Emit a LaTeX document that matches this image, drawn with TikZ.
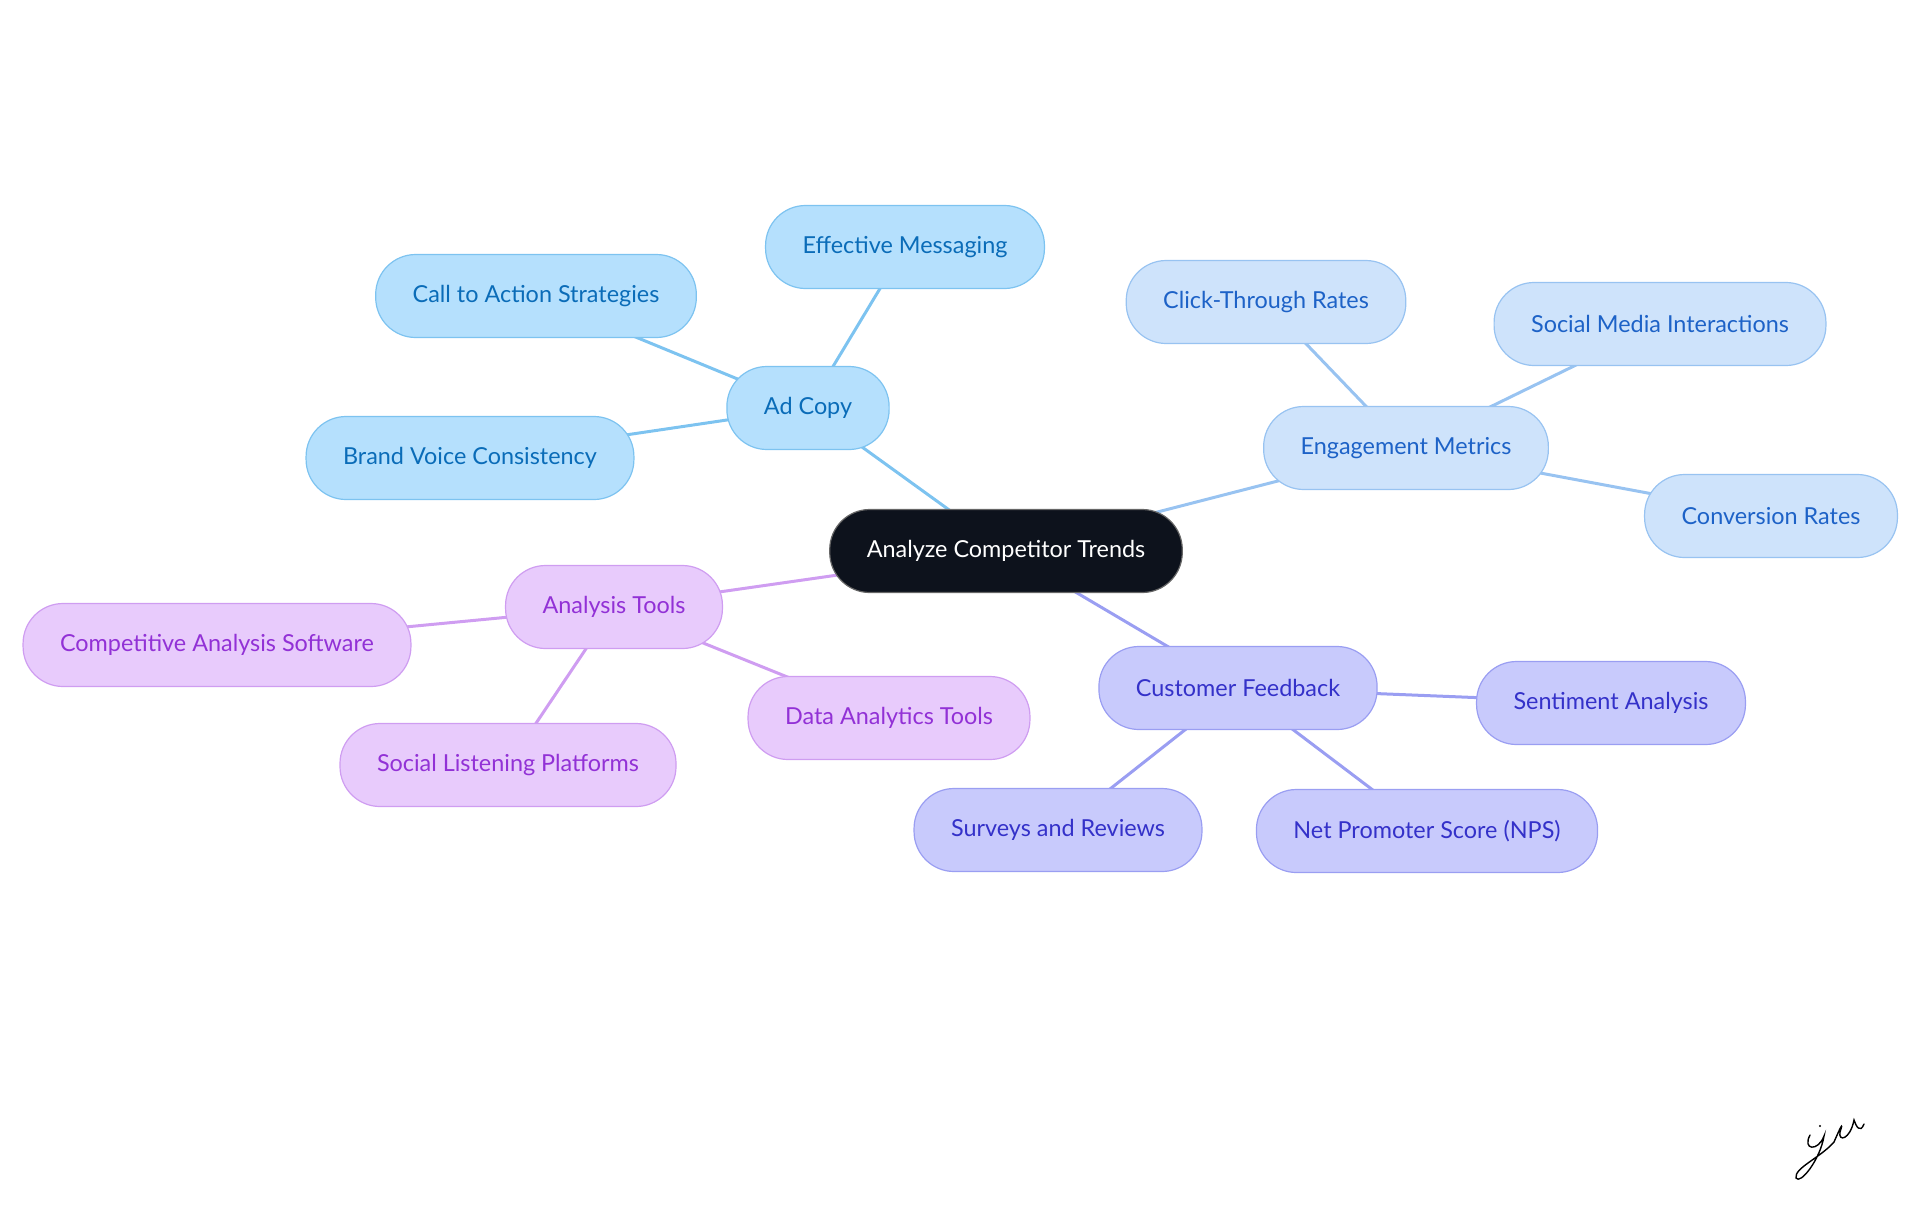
\documentclass[tikz,border=0pt]{standalone}
\usepackage{fontspec}
\setmainfont{Lato}
\usetikzlibrary{positioning, calc, backgrounds}

\definecolor{rootfill}{HTML}{0D121C}
\definecolor{adfill}{HTML}{B5E0FD}
\definecolor{addraw}{HTML}{7DC3F0}
\definecolor{adtext}{HTML}{0A6CB8}
\definecolor{engfill}{HTML}{CEE3FB}
\definecolor{engdraw}{HTML}{98C3F1}
\definecolor{engtext}{HTML}{1D62C7}
\definecolor{cusfill}{HTML}{C8CAFC}
\definecolor{cusdraw}{HTML}{9A9EF2}
\definecolor{custext}{HTML}{3431C9}
\definecolor{anafill}{HTML}{E8CBFC}
\definecolor{anadraw}{HTML}{CF9DF1}
\definecolor{anatext}{HTML}{9231D6}

\begin{document}
\begin{tikzpicture}[
  x=0.5pt, y=-0.5pt,
  pill/.style={draw, rounded corners=20pt, minimum height=41.5pt,
               inner xsep=18.5pt, line width=0.6pt, font=\fontsize{11.7}{13}\selectfont},
  root/.style={pill, fill=rootfill, draw=black!60, text=white},
  adnode/.style={pill, fill=adfill, draw=addraw, text=adtext},
  engnode/.style={pill, fill=engfill, draw=engdraw, text=engtext},
  cusnode/.style={pill, fill=cusfill, draw=cusdraw, text=custext},
  ananode/.style={pill, fill=anafill, draw=anadraw, text=anatext},
  adlink/.style={line width=1.5pt, color=addraw},
  englink/.style={line width=1.5pt, color=engdraw},
  cuslink/.style={line width=1.5pt, color=cusdraw},
  analink/.style={line width=1.5pt, color=anadraw},
]
\useasboundingbox (0,0) rectangle (1920,1215);

% === Root ===
\node[root] (trends) at (1006,551) {Analyze Competitor Trends};

% === Ad Copy branch ===
\node[adnode] (adcopy) at (808,408) {Ad Copy};
\node[adnode] (messaging) at (905,247) {Effective Messaging};
\node[adnode] (cta) at (536,296) {Call to Action Strategies};
\node[adnode] (brandvoice) at (470,458) {Brand Voice Consistency};

% === Engagement Metrics branch ===
\node[engnode] (engagement) at (1406,448) {Engagement Metrics};
\node[engnode] (ctr) at (1266,302) {Click-Through Rates};
\node[engnode] (social) at (1660,324) {Social Media Interactions};
\node[engnode] (conversion) at (1771,516) {Conversion Rates};

% === Customer Feedback branch ===
\node[cusnode] (feedback) at (1238,688) {Customer Feedback};
\node[cusnode] (sentiment) at (1611,703) {Sentiment Analysis};
\node[cusnode] (surveys) at (1058,830) {Surveys and Reviews};
\node[cusnode] (nps) at (1427,831) {Net Promoter Score (NPS)};

% === Analysis Tools branch ===
\node[ananode] (tools) at (614,607) {Analysis Tools};
\node[ananode] (software) at (217,645) {Competitive Analysis Software};
\node[ananode] (listening) at (508,765) {Social Listening Platforms};
\node[ananode] (analytics) at (889,718) {Data Analytics Tools};

% === Links (centre to centre, behind the pills) ===
\begin{scope}[on background layer]
  \draw[adlink] (trends.center) -- (adcopy.center);
  \draw[adlink] (adcopy.center) -- (messaging.center);
  \draw[adlink] (adcopy.center) -- (cta.center);
  \draw[adlink] (adcopy.center) -- (brandvoice.center);
  \draw[englink] (trends.center) -- (engagement.center);
  \draw[englink] (engagement.center) -- (ctr.center);
  \draw[englink] (engagement.center) -- (social.center);
  \draw[englink] (engagement.center) -- (conversion.center);
  \draw[cuslink] (trends.center) -- (feedback.center);
  \draw[cuslink] (feedback.center) -- (sentiment.center);
  \draw[cuslink] (feedback.center) -- (surveys.center);
  \draw[cuslink] (feedback.center) -- (nps.center);
  \draw[analink] (trends.center) -- (tools.center);
  \draw[analink] (tools.center) -- (software.center);
  \draw[analink] (tools.center) -- (listening.center);
  \draw[analink] (tools.center) -- (analytics.center);
\end{scope}

% === Signature mark ===
\coordinate (sig) at (1830,1150);
\draw[line width=0.7pt, line cap=round]
  ([shift={(-20,-15)}]sig) .. controls ([shift={(-28,0)}]sig) and ([shift={(-12,2)}]sig) .. ([shift={(-6,-14)}]sig)
  .. controls ([shift={(-10,10)}]sig) and ([shift={(-30,35)}]sig) .. ([shift={(-34,28)}]sig)
  .. controls ([shift={(-36,18)}]sig) and ([shift={(-10,8)}]sig) .. ([shift={(4,-8)}]sig)
  .. controls ([shift={(10,-22)}]sig) and ([shift={(14,-30)}]sig) .. ([shift={(10,-18)}]sig)
  .. controls ([shift={(8,-8)}]sig) and ([shift={(20,-10)}]sig) .. ([shift={(24,-30)}]sig)
  .. controls ([shift={(26,-24)}]sig) and ([shift={(30,-16)}]sig) .. ([shift={(34,-26)}]sig);
\fill ([shift={(-10,-24)}]sig) circle (1.2);

\end{tikzpicture}
\end{document}
